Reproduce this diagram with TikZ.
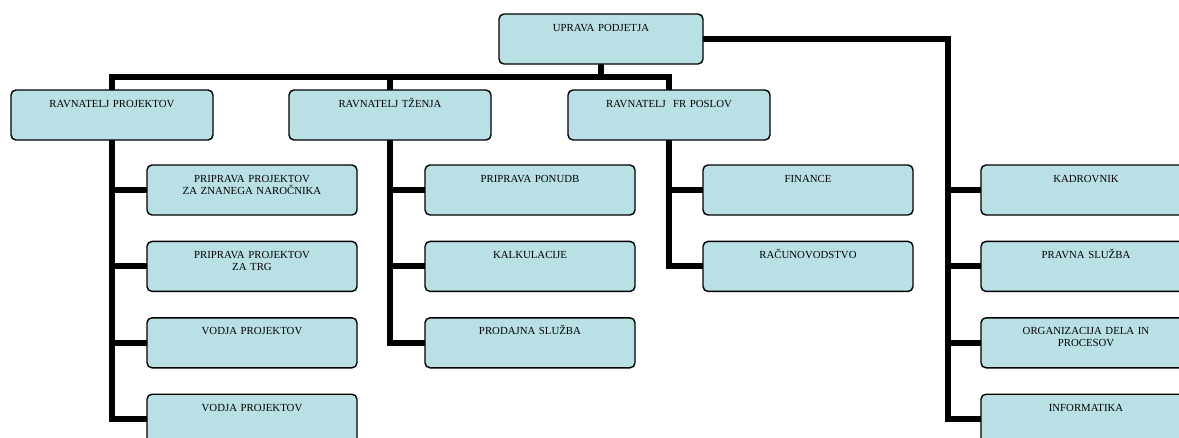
\documentclass[tikz,border=0pt]{standalone}
\usepackage{fontspec}
\setmainfont{Liberation Serif}
\usepackage{xcolor}
\usetikzlibrary{positioning,backgrounds}
\definecolor{boxfill}{RGB}{185,224,228}

\begin{document}
\begin{tikzpicture}[
    x=1pt, y=-1pt,
    font=\fontsize{10.8}{12}\selectfont,
    node distance=25pt,
    unit/.style={rectangle, draw, line width=1.4pt, rounded corners=5pt, fill=boxfill, align=center,
        inner xsep=4pt, inner ysep=0pt, text height=17pt, text depth=33pt},
    head/.style={unit, text width=194pt},
    sub/.style={unit, text width=202pt},
    link/.style={line width=6pt, line cap=rect}
]
\useasboundingbox (0,0) rectangle (1179,437);

\node[unit, text width=196pt] (uprava) at (601,39) {UPRAVA PODJETJA};

\node[head] (projekti) at (112,115) {RAVNATELJ PROJEKTOV};
\node[head] (trzenje) at (390,115) {RAVNATELJ TŽENJA};
\node[head] (fr) at (669,115) {RAVNATELJ\ \ FR POSLOV};

\node[sub] (p1) at (252,190) {PRIPRAVA PROJEKTOV\\ZA ZNANEGA NAROČNIKA};
\node[sub, below=of p1] (p2) {PRIPRAVA PROJEKTOV\\ZA TRG};
\node[sub, below=of p2] (p3) {VODJA PROJEKTOV};
\node[sub, below=of p3] (p4) {VODJA PROJEKTOV};

\node[sub] (t1) at (530,190) {PRIPRAVA PONUDB};
\node[sub, below=of t1] (t2) {KALKULACIJE};
\node[sub, below=of t2] (t3) {PRODAJNA SLUŽBA};

\node[sub] (f1) at (808,190) {FINANCE};
\node[sub, below=of f1] (f2) {RAČUNOVODSTVO};

\node[sub] (k1) at (1086,190) {KADROVNIK};
\node[sub, below=of k1] (k2) {PRAVNA SLUŽBA};
\node[sub, below=of k2] (k3) {ORGANIZACIJA DELA IN\\PROCESOV};
\node[sub, below=of k3] (k4) {INFORMATIKA};

\coordinate (bus) at (601,77);
\coordinate (rbend) at (948,39);

\begin{scope}[on background layer]
\draw[link] (uprava.south) -- (bus);
\draw[link] (bus) -| (projekti.north);
\draw[link] (bus) -| (trzenje.north);
\draw[link] (bus) -| (fr.north);

\draw[link] (projekti.south) |- (p1.west);
\draw[link] (projekti.south) |- (p2.west);
\draw[link] (projekti.south) |- (p3.west);
\draw[link] (projekti.south) |- (p4.west);

\draw[link] (trzenje.south) |- (t1.west);
\draw[link] (trzenje.south) |- (t2.west);
\draw[link] (trzenje.south) |- (t3.west);

\draw[link] (fr.south) |- (f1.west);
\draw[link] (fr.south) |- (f2.west);

\draw[link] (uprava.east) -- (rbend);
\draw[link] (rbend) |- (k1.west);
\draw[link] (rbend) |- (k2.west);
\draw[link] (rbend) |- (k3.west);
\draw[link] (rbend) |- (k4.west);
\end{scope}
\end{tikzpicture}
\end{document}
